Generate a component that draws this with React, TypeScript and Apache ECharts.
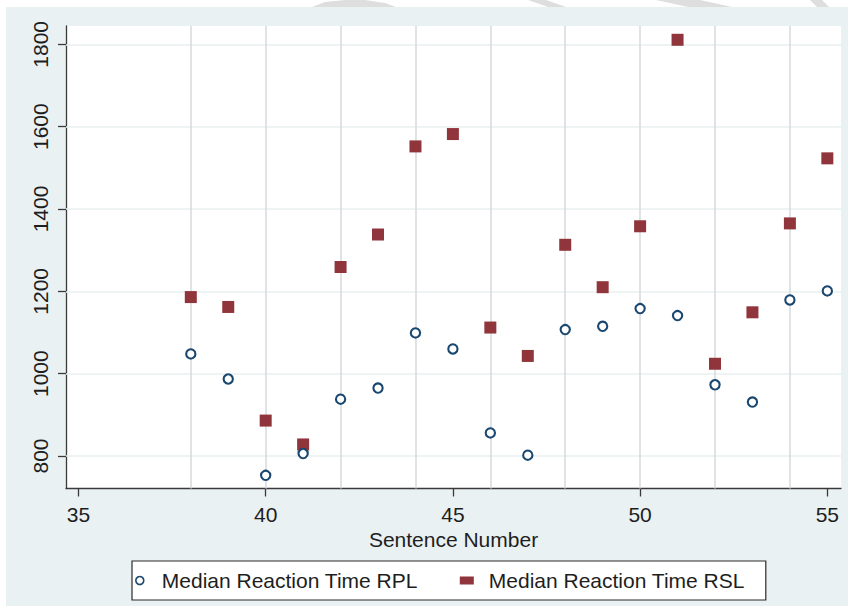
import React, { useEffect, useRef } from "react";
import * as echarts from "echarts";

const sentences = [38, 39, 40, 41, 42, 43, 44, 45, 46, 47, 48, 49, 50, 51, 52, 53, 54, 55];
const rplValues = [1048, 987, 753, 806, 938, 965, 1099, 1060, 856, 802, 1107, 1115, 1158, 1141, 973, 931, 1179, 1201];
const rslValues = [1186, 1162, 886, 828, 1259, 1338, 1552, 1582, 1112, 1043, 1313, 1210, 1358, 1811, 1024, 1149, 1365, 1523];
const xTickLabels = [35, 40, 45, 50, 55];
const yTickLabels = [800, 1000, 1200, 1400, 1600, 1800];
const xGridLines = [38, 40, 42, 44, 46, 48, 50, 52, 54];

const seriesNames = ["Median Reaction Time RPL", "Median Reaction Time RSL"];
const FONT = "'Liberation Sans', Arial, sans-serif";

export default function App() {
  const ref = useRef<HTMLDivElement>(null);
  useEffect(() => {
    if (!ref.current) return;
    const chart = echarts.init(ref.current, undefined, { renderer: "svg" });
    const axisColor = "#3a3a3a";
    const textColor = "#1e1e1e";
    const option: any = {
      animation: false,
      backgroundColor: "#eaf1f3",
      textStyle: { fontFamily: FONT },
      graphic: [
        { type: "rect", shape: { x: 0, y: 0, width: 850, height: 7 }, style: { fill: "#fff" }, silent: true },
        { type: "rect", shape: { x: 0, y: 0, width: 6, height: 606 }, style: { fill: "#fff" }, silent: true },
        { type: "rect", shape: { x: 848, y: 0, width: 2, height: 606 }, style: { fill: "#fff" }, silent: true },
        { type: "polygon", shape: { points: [[312, 7], [325, 2], [345, 0], [365, 0], [385, 3], [396, 7]] }, style: { fill: "#dedede" }, silent: true },
        { type: "polygon", shape: { points: [[528, 0], [546, 0], [566, 7], [548, 7]] }, style: { fill: "#dedede" }, silent: true },
        { type: "polygon", shape: { points: [[656, 0], [700, 0], [732, 7], [688, 7]] }, style: { fill: "#dedede" }, silent: true },
        { type: "polygon", shape: { points: [[810, 0], [822, 0], [829, 7], [817, 7]] }, style: { fill: "#dedede" }, silent: true },
      ],
      grid: {
        left: 66,
        right: 9,
        top: 26,
        bottom: 117.5,
        show: true,
        backgroundColor: "#ffffff",
        borderWidth: 0,
      },
      xAxis: {
        type: "value",
        min: 34.667,
        max: 55.365,
        name: "Sentence Number",
        nameLocation: "middle",
        nameGap: 39,
        nameTextStyle: { fontSize: 21, color: textColor, fontFamily: FONT },
        axisLine: { show: true, onZero: false, lineStyle: { color: axisColor, width: 1.3 } },
        axisTick: { show: true, length: 8, customValues: xTickLabels, lineStyle: { color: axisColor, width: 1.3 } },
        axisLabel: {
          customValues: xTickLabels,
          fontSize: 21,
          color: textColor,
          margin: 15,
          fontFamily: FONT,
          formatter: (v: number) => String(v),
        },
        splitLine: { show: false },
      },
      yAxis: {
        type: "value",
        min: 721,
        max: 1844.5,
        axisLine: { show: true, lineStyle: { color: axisColor, width: 1.3 } },
        axisTick: { show: true, length: 8, customValues: yTickLabels, lineStyle: { color: axisColor, width: 1.3 } },
        axisLabel: {
          customValues: yTickLabels,
          fontSize: 21,
          color: textColor,
          margin: 15,
          rotate: 90,
          fontFamily: FONT,
          formatter: (v: number) => String(v),
        },
        splitLine: { show: false },
      },
      legend: {
        data: [
          { name: seriesNames[0], icon: "circle", itemStyle: { color: "#ffffff", borderColor: "#1a476f", borderWidth: 1.6, opacity: 1 } },
          { name: seriesNames[1], icon: "rect", itemStyle: { color: "#90353b", borderWidth: 0, opacity: 1 } },
        ],
        left: 132,
        top: 561,
        orient: "horizontal",
        itemWidth: 14,
        itemHeight: 8,
        itemGap: 42,
        padding: [9, 21, 9, 3],
        backgroundColor: "#ffffff",
        borderColor: "#2a2a2a",
        borderWidth: 1.2,
        borderRadius: 0,
        textStyle: { fontSize: 21, color: textColor, fontFamily: FONT, padding: [0, 0, 0, 10] },
      },
      series: [
        {
          type: "line",
          name: "grid",
          data: [[38, 1000]],
          showSymbol: false,
          symbolSize: 0,
          lineStyle: { width: 0, opacity: 0 },
          silent: true,
          z: 1,
          markLine: {
            silent: true,
            z: 1,
            symbol: ["none", "none"],
            label: { show: false },
            emphasis: { disabled: true },
            lineStyle: { color: "#d6dadd", width: 1.5, type: "solid" },
            data: [
              ...yTickLabels.map((v) => ({ yAxis: v, lineStyle: { color: "#e9eff1", width: 1.5, type: "solid" } })),
              ...xGridLines.map((v) => ({ xAxis: v })),
            ],
          },
        },
        {
          type: "scatter",
          name: seriesNames[1],
          data: sentences.map((s, i) => [s, rslValues[i]]),
          symbol: "rect",
          symbolSize: 12,
          itemStyle: { color: "#90353b", opacity: 1 },
          z: 8,
        },
        {
          type: "scatter",
          name: seriesNames[0],
          data: sentences.map((s, i) => [s, rplValues[i]]),
          symbol: "circle",
          symbolSize: 9.3,
          itemStyle: { color: "#ffffff", borderColor: "#1a476f", borderWidth: 2.1, opacity: 1 },
          z: 9,
        },
      ],
    };
    chart.setOption(option);
    return () => chart.dispose();
  }, []);
  return (
    <div
      ref={ref}
      style={{ position: "fixed", left: 0, top: 0, width: 850, height: 606 }}
    />
  );
}
